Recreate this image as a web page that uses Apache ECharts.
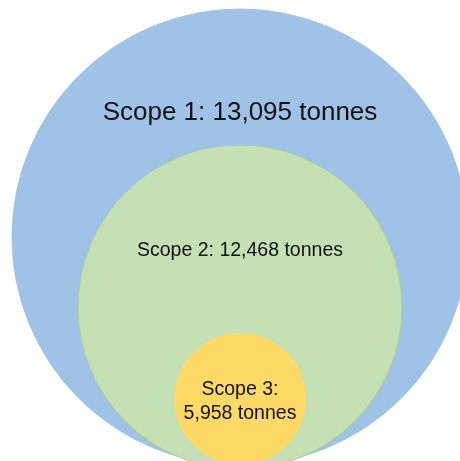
<!DOCTYPE html>
<html>
<head>
<meta charset="utf-8">
<script src="https://cdn.jsdelivr.net/npm/echarts@6/dist/echarts.min.js"></script>
<style>html,body{margin:0;padding:0;background:#fff}#c{width:460px;height:461px}</style>
</head>
<body>
<div id="c"></div>
<script>
// Data
const scopes = ['Scope 1', 'Scope 2', 'Scope 3'];
const tonnes = [13095, 12468, 5958];

// Layout (circle centre x, centre y, radius in canvas units) and styles
const layoutCx = [240, 240, 240];
const layoutCy = [237, 307, 398.5];
const layoutR = [228, 162, 65.5];
const fills = ['#9fc3e6', '#c5e0b4', '#ffd966'];
const strokes = ['#9fc3e6', '#a9d18e', '#ffd966'];
const fontSizes = [26, 19.5, 19.5];
const labelDy = [-124.5, -56, 3];
const lineHeights = [30, 24, 24];

function fmt(v) { return v.toLocaleString('en-US'); }
const labels = scopes.map((s, i) => i === 2 ? s + ':\n' + fmt(tonnes[i]) + ' tonnes' : s + ': ' + fmt(tonnes[i]) + ' tonnes');

const chart = echarts.init(document.getElementById('c'));
chart.setOption({
  animation: false,
  grid: { left: 0, right: 0, top: 0, bottom: 0 },
  xAxis: { type: 'value', min: 0, max: 460, show: false },
  yAxis: { type: 'value', min: 0, max: 461, inverse: true, show: false },
  series: [{
    type: 'custom',
    clip: true,
    data: scopes.map((s, i) => [layoutCx[i], layoutCy[i], layoutR[i], tonnes[i], i]),
    renderItem: function (params, api) {
      const i = api.value(4);
      const c = api.coord([api.value(0), api.value(1)]);
      const r = api.size([api.value(2), 0])[0];
      return {
        type: 'group',
        children: [
          { type: 'circle', shape: { cx: c[0], cy: c[1], r: r },
            style: { fill: fills[i], stroke: strokes[i], lineWidth: 1 } },
          { type: 'text', x: c[0], y: c[1] + labelDy[i],
            style: { text: labels[i], fill: '#111', font: fontSizes[i] + 'px "Liberation Sans", Arial, sans-serif',
              align: 'center', verticalAlign: 'middle', lineHeight: lineHeights[i] } }
        ]
      };
    }
  }]
});
</script>
</body>
</html>
